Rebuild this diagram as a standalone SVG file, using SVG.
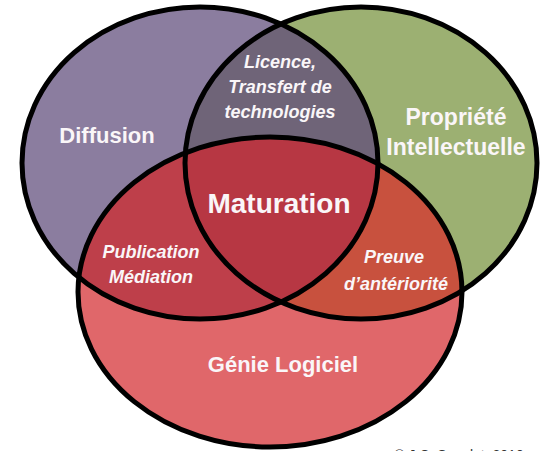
<svg xmlns="http://www.w3.org/2000/svg" width="546" height="451" viewBox="0 0 546 451">
<style>
.lbl{font-family:"Liberation Sans",Arial,sans-serif;font-weight:bold;fill:#FAF6F8;text-anchor:middle}
.it{font-style:italic;font-size:18px}
.edge{fill:none;stroke:#000;stroke-width:5}
</style>
<defs>
<ellipse id="eP" cx="200" cy="163" rx="178" ry="156"/>
<ellipse id="eG" cx="361" cy="163" rx="176" ry="156"/>
<ellipse id="eR" cx="270" cy="292" rx="192" ry="155"/>
<clipPath id="cP"><use href="#eP"/></clipPath>
<clipPath id="cG"><use href="#eG"/></clipPath>
<clipPath id="cR"><use href="#eR"/></clipPath>
</defs>
<rect width="546" height="451" fill="#fff"/>
<g id="fills">
<use href="#eP" fill="#8B7D9F"/>
<use href="#eG" fill="#9CB072"/>
<use href="#eR" fill="#E0676A"/>
<use href="#eG" fill="#6F6478" clip-path="url(#cP)"/>
<use href="#eR" fill="#BE3F4A" clip-path="url(#cP)"/>
<use href="#eR" fill="#C8513E" clip-path="url(#cG)"/>
<g clip-path="url(#cP)"><use href="#eR" fill="#B73743" clip-path="url(#cG)"/></g>
</g>
<g id="connectors"></g>
<g id="diffusion"><use href="#eP" class="edge"/><text class="lbl" x="107" y="143" font-size="22">Diffusion</text></g>
<g id="propriete"><use href="#eG" class="edge"/><text class="lbl" x="456" y="125" font-size="23">Propriété</text><text class="lbl" x="456" y="155" font-size="23">Intellectuelle</text></g>
<g id="genie"><use href="#eR" class="edge"/><text class="lbl" x="283" y="372" font-size="22">Génie Logiciel</text></g>
<g id="licence"><text class="lbl it" x="280" y="68">Licence,</text><text class="lbl it" x="280" y="93">Transfert de</text><text class="lbl it" x="280" y="118">technologies</text></g>
<g id="maturation"><text class="lbl" x="279" y="213" font-size="28">Maturation</text></g>
<g id="publication"><text class="lbl it" x="151" y="258" font-size="19">Publication</text><text class="lbl it" x="151" y="283" font-size="19">Médiation</text></g>
<g id="preuve"><text class="lbl it" x="394" y="263">Preuve</text><text class="lbl it" x="396" y="290">d’antériorité</text></g>
<text x="459" y="460" font-family="Liberation Sans,Arial,sans-serif" font-size="14" fill="#333" text-anchor="middle">© J.C. Souplet, 2010</text>
</svg>
